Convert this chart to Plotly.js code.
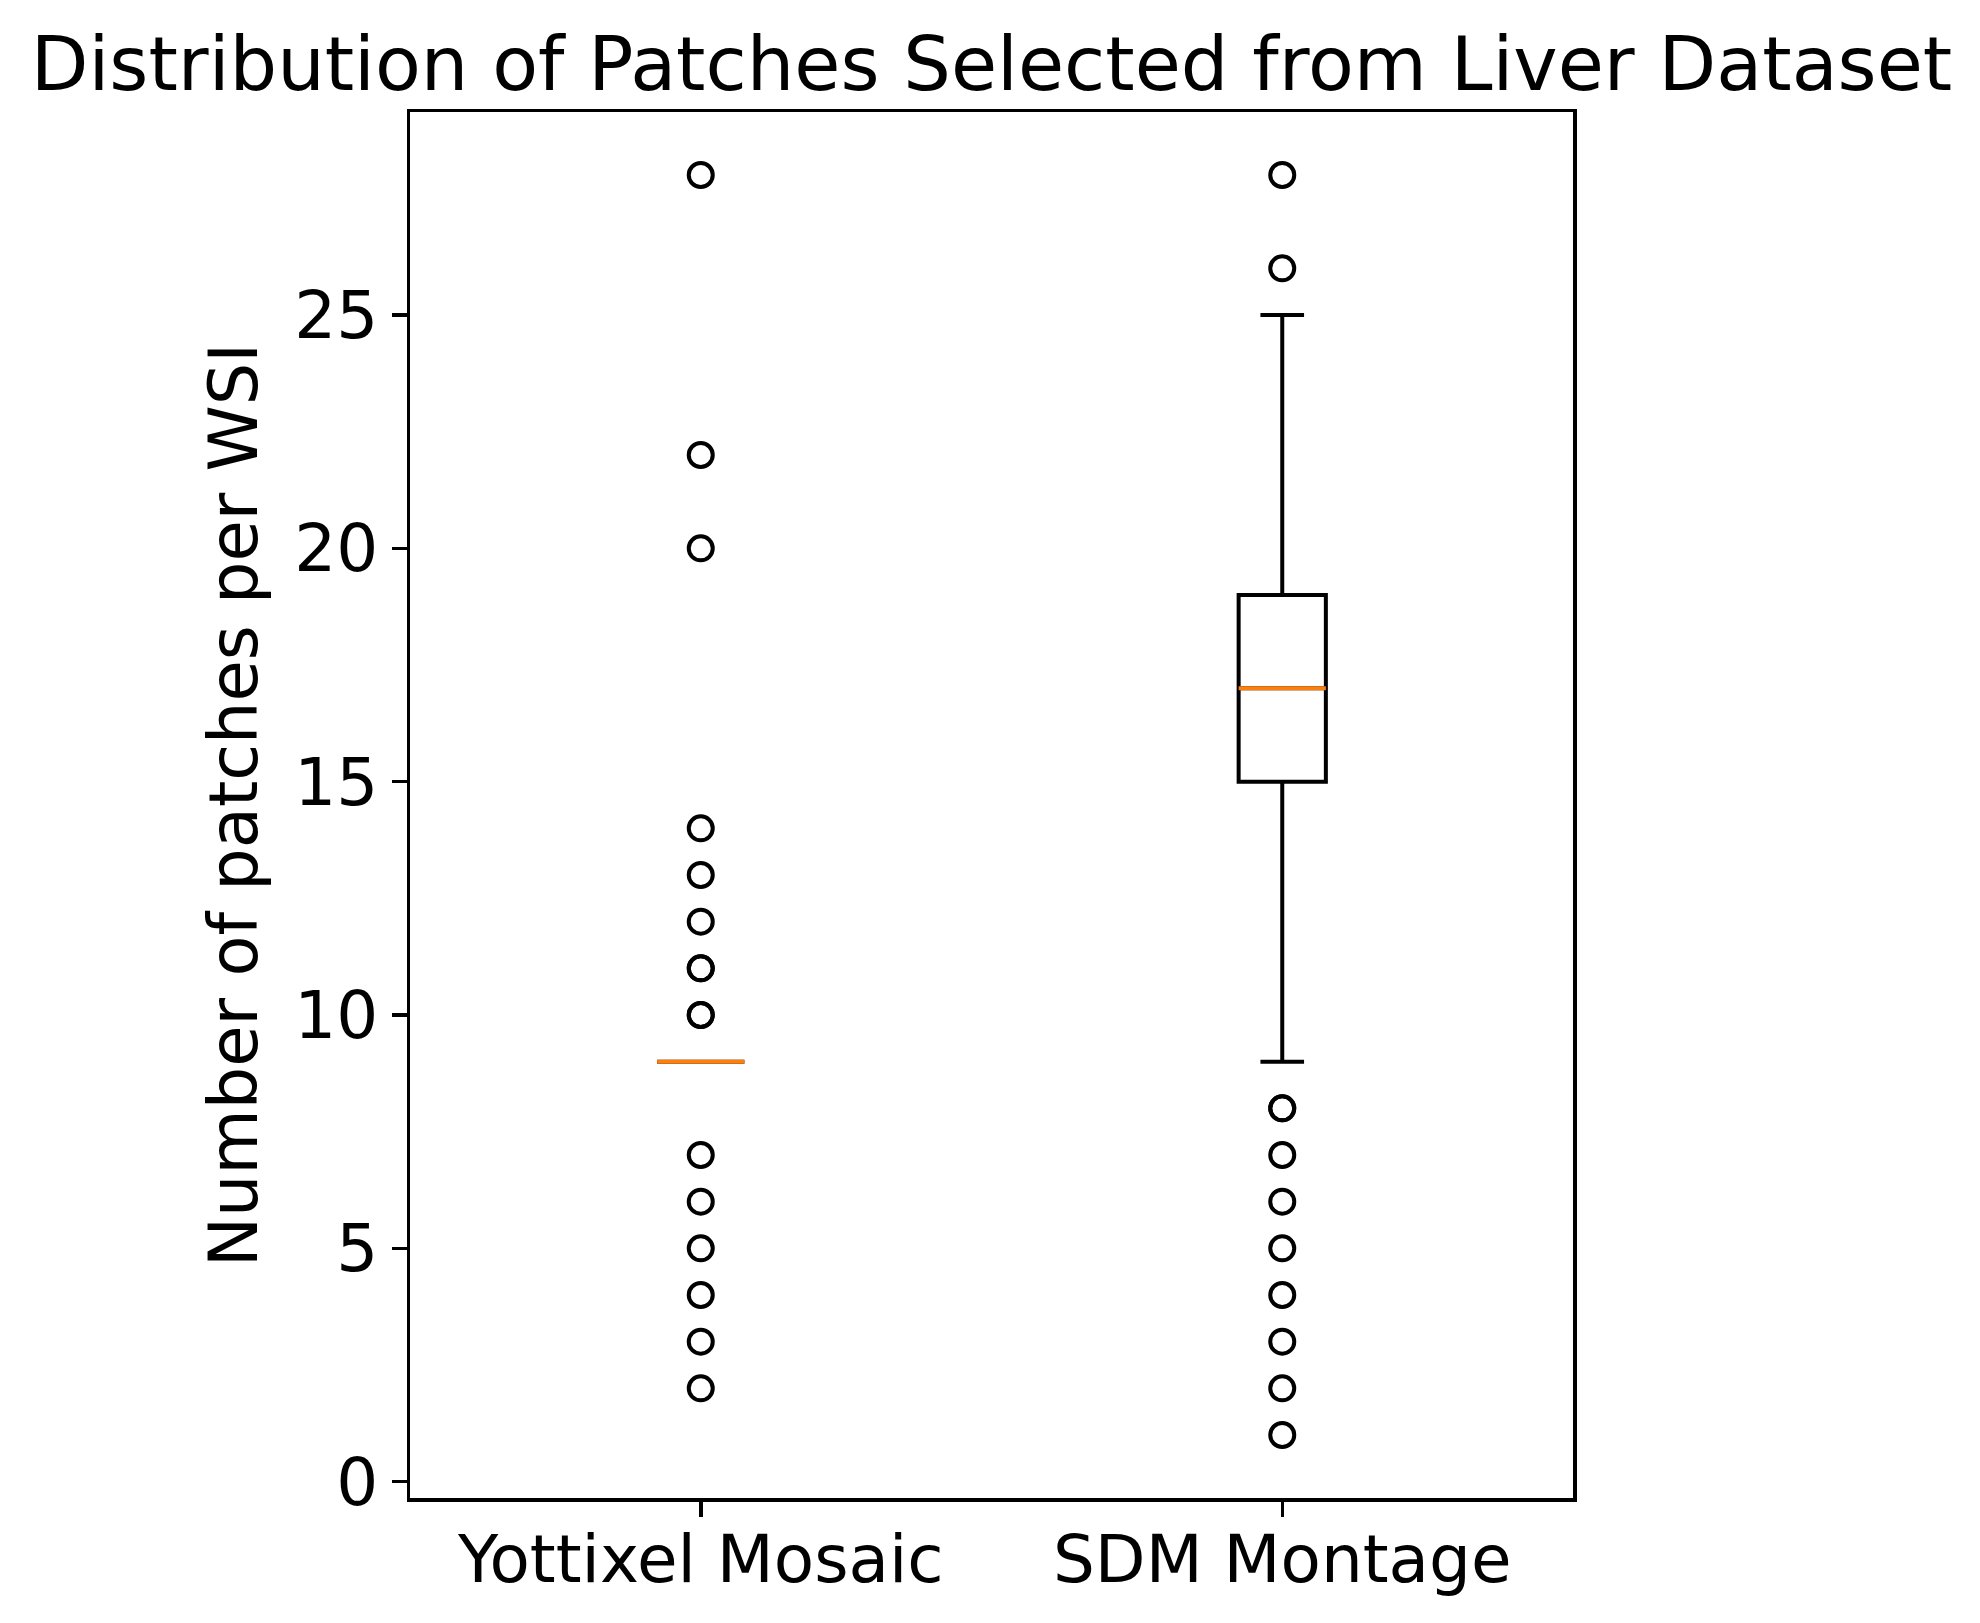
<!DOCTYPE html>
<html>
<head>
<meta charset="utf-8">
<script src="https://cdn.plot.ly/plotly-3.0.1.min.js"></script>
<style>html,body{margin:0;padding:0;background:#fff;}#chart{width:1980px;height:1623px;}</style>
</head>
<body>
<div id="chart"></div>
<script>
// ---- data ----
const categories = ["Yottixel Mosaic", "SDM Montage"];
const q1Values = [9, 15];
const medianValues = [9, 17];
const q3Values = [9, 19];
const lowerWhisker = [9, 9];
const upperWhisker = [9, 25];
const yottixelOutliers = [2, 3, 4, 5, 6, 7, 10, 10, 11, 11, 12, 13, 14, 20, 22, 28];
const sdmOutliers = [1, 2, 3, 4, 5, 6, 7, 8, 8, 26, 28];
const yTicks = [0, 5, 10, 15, 20, 25];

// ---- drawing ----
const positions = categories.map((_, i) => i + 1);
const boxWidth = 0.15;
const FONT = "DejaVu Sans, sans-serif";

const traces = [];
traces.push({
  type: "box",
  x: positions,
  q1: q1Values,
  median: medianValues,
  q3: q3Values,
  lowerfence: lowerWhisker,
  upperfence: upperWhisker,
  width: boxWidth,
  whiskerwidth: 0.5,
  boxpoints: false,
  fillcolor: "rgba(0,0,0,0)",
  line: {color: "#000000", width: 4},
  hoverinfo: "skip",
  showlegend: false
});
// orange median lines
positions.forEach((p, i) => {
  traces.push({
    type: "scatter", mode: "lines",
    x: [p - boxWidth / 2, p + boxWidth / 2],
    y: [medianValues[i], medianValues[i]],
    line: {color: "#ff7f0e", width: 4},
    hoverinfo: "skip", showlegend: false
  });
});
// outliers
[yottixelOutliers, sdmOutliers].forEach((vals, i) => {
  traces.push({
    type: "scatter", mode: "markers",
    x: vals.map(() => positions[i]),
    y: vals,
    marker: {symbol: "circle-open", size: 24, color: "#000000", line: {color: "#000000", width: 4}},
    hoverinfo: "skip", showlegend: false
  });
});

const layout = {
  width: 1980, height: 1623,
  paper_bgcolor: "#ffffff", plot_bgcolor: "#ffffff",
  margin: {l: 410, r: 407, t: 112, b: 125},
  showlegend: false,
  font: {family: FONT, color: "#000000", size: 66},
  title: {
    text: "Distribution of Patches Selected from Liver Dataset",
    font: {family: FONT, size: 75, color: "#000000"},
    x: 0.5, xref: "paper", xanchor: "center",
    y: 1, yref: "paper", yanchor: "bottom",
    pad: {b: 22}
  },
  xaxis: {
    range: [0.5, 2.5],
    tickmode: "array", tickvals: positions, ticktext: categories,
    ticks: "outside", ticklen: 15, tickwidth: 3.5, tickcolor: "#000",
    ticklabelstandoff: -14,
    showline: true, linecolor: "#000", linewidth: 3.5, mirror: true,
    showgrid: false, zeroline: false,
    tickfont: {family: FONT, size: 66, color: "#000"}
  },
  yaxis: {
    range: [-0.35, 29.35],
    tickmode: "array", tickvals: yTicks, ticktext: yTicks.map(String),
    ticks: "outside", ticklen: 15, tickwidth: 3.5, tickcolor: "#000",
    showline: true, linecolor: "#000", linewidth: 3.5, mirror: true,
    showgrid: false, zeroline: false,
    tickfont: {family: FONT, size: 66, color: "#000"},
    title: {text: "Number of patches per WSI", font: {family: FONT, size: 67, color: "#000"}, standoff: 16}
  }
};

Plotly.newPlot("chart", traces, layout, {staticPlot: true, displayModeBar: false});
</script>
</body>
</html>
